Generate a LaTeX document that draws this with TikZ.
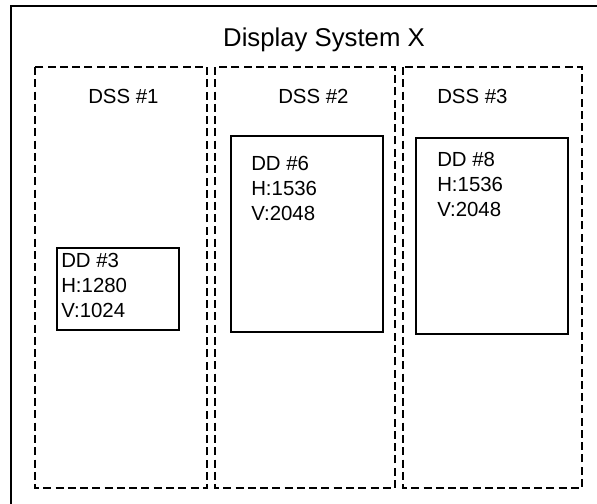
\documentclass[tikz,border=0pt]{standalone}
\usepackage{fontspec}
\setmainfont{Liberation Sans}
\begin{document}
\begin{tikzpicture}[x=0.75pt,y=-0.75pt,
  outerbox/.style={draw=black,line width=1.5pt},
  dssbox/.style={draw=black,line width=1.5pt,dash pattern=on 6pt off 3.2pt},
  ddbox/.style={draw=black,line width=1.3pt},
  title/.style={inner sep=0pt,font=\fontsize{19.3}{23}\selectfont},
  txt/.style={inner sep=0pt,anchor=base west,font=\fontsize{15.3}{18}\selectfont}]
\useasboundingbox (0,0) rectangle (597,504);
\clip (0,0) rectangle (597,504);
% outer frame (extends past the right and bottom edges)
\draw[outerbox] (11,620) -- (11,6) -- (700,6);
\node[title,anchor=base] (ttl) at (324,46) {Display System X};
% display subsystems
\draw[dssbox] (35,67) rectangle (207,488);
\draw[dssbox] (215,67) rectangle (395,488);
\draw[dssbox] (403,67) rectangle (582,488);
\node[txt] (l1) at (88,103) {DSS \#1};
\node[txt] (l2) at (278,103) {DSS \#2};
\node[txt] (l3) at (437,103) {DSS \#3};
% display devices
\draw[ddbox] (57,248) rectangle (179,330);
\node[txt] (a1) at (61,267) {DD \#3};
\node[txt] (a2) at (61,292) {H:1280};
\node[txt] (a3) at (61,317) {V:1024};
\draw[ddbox] (231,136) rectangle (383,332);
\node[txt] (b1) at (251,170) {DD \#6};
\node[txt] (b2) at (251,195) {H:1536};
\node[txt] (b3) at (251,220) {V:2048};
\draw[ddbox] (416,138) rectangle (568,334);
\node[txt] (c1) at (437,166) {DD \#8};
\node[txt] (c2) at (437,191) {H:1536};
\node[txt] (c3) at (437,216) {V:2048};
\end{tikzpicture}
\end{document}
